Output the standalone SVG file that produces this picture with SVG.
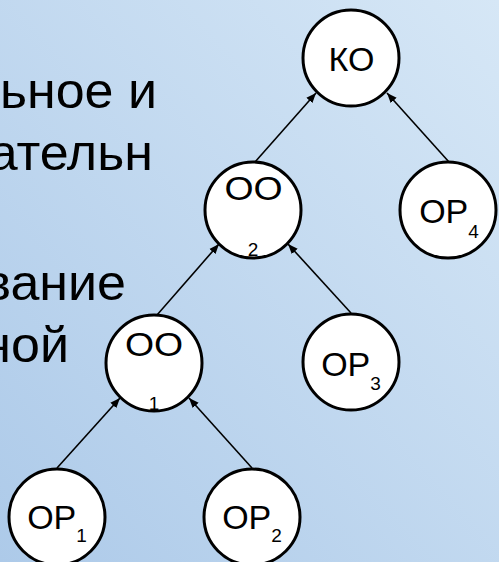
<svg xmlns="http://www.w3.org/2000/svg" width="499" height="562" viewBox="0 0 499 562">
  <defs>
    <linearGradient id="bg" x1="0" y1="1" x2="1" y2="0">
      <stop offset="0" stop-color="#adcae9"/>
      <stop offset="1" stop-color="#d6e7f6"/>
    </linearGradient>
    <marker id="arrow" viewBox="0 0 10 10" refX="10" refY="5" markerWidth="10" markerHeight="10" markerUnits="userSpaceOnUse" orient="auto">
      <path d="M0,1 L10,5 L0,9 Z" fill="#000"/>
    </marker>
    <style>
      .node circle { fill: #fff; stroke: #000; stroke-width: 3; }
      .lbl { font-family: "Liberation Sans", Arial, sans-serif; font-size: 34px; fill: #000; }
      .sub { font-size: 19px; }
      .body { font-family: "Liberation Sans", Arial, sans-serif; font-size: 50px; fill: #000; text-anchor: end; }
      .edges line { stroke: #000; stroke-width: 1.6; marker-end: url(#arrow); }
    </style>
  </defs>

  <rect width="499" height="562" fill="url(#bg)"/>

  <!-- slide body text, partly cut by the left edge -->
  <g id="body-text">
    <text class="body" transform="translate(157,108) scale(1.04,1)">льное и</text>
    <text class="body" transform="translate(153,170) scale(1.04,1)">ательн</text>
    <text class="body" transform="translate(126,300) scale(1.04,1)">вание</text>
    <text class="body" transform="translate(69,362) scale(1.04,1)">ной</text>
  </g>

  <!-- connectors: child to parent -->
  <g class="edges" id="edges">
    <line x1="255" y1="162" x2="316" y2="93"/>
    <line x1="449" y1="162" x2="387" y2="93"/>
    <line x1="157" y1="315" x2="219" y2="244"/>
    <line x1="351" y1="313" x2="288" y2="244"/>
    <line x1="57" y1="468" x2="120" y2="398"/>
    <line x1="252" y1="468" x2="189" y2="398"/>
  </g>

  <g class="node" id="ko">
    <circle cx="351" cy="58" r="48"/>
    <text class="lbl" x="351.5" y="71" text-anchor="middle" font-size="38">КО</text>
  </g>

  <g class="node" id="oo2">
    <circle cx="253" cy="210" r="48"/>
    <text class="lbl" transform="translate(253.5,200) scale(1.1,1)" text-anchor="middle" font-size="35">ОО</text>
    <text class="lbl sub" x="253" y="256" text-anchor="middle">2</text>
  </g>

  <g class="node" id="op4">
    <circle cx="448" cy="210" r="48"/>
    <text class="lbl" x="449" y="223" text-anchor="middle">ОР<tspan class="sub" dy="15">4</tspan></text>
  </g>

  <g class="node" id="oo1">
    <circle cx="154" cy="363" r="48"/>
    <text class="lbl" transform="translate(154,356) scale(1.1,1)" text-anchor="middle" font-size="35">ОО</text>
    <text class="lbl sub" x="154" y="410" text-anchor="middle">1</text>
  </g>

  <g class="node" id="op3">
    <circle cx="351" cy="362" r="48"/>
    <text class="lbl" x="351" y="376" text-anchor="middle">ОР<tspan class="sub" dy="14">3</tspan></text>
  </g>

  <g class="node" id="op1">
    <circle cx="57" cy="517" r="48"/>
    <text class="lbl" x="57" y="529" text-anchor="middle">ОР<tspan class="sub" dy="13">1</tspan></text>
  </g>

  <g class="node" id="op2">
    <circle cx="252" cy="517" r="48"/>
    <text class="lbl" x="252" y="529" text-anchor="middle">ОР<tspan class="sub" dy="13">2</tspan></text>
  </g>
</svg>
